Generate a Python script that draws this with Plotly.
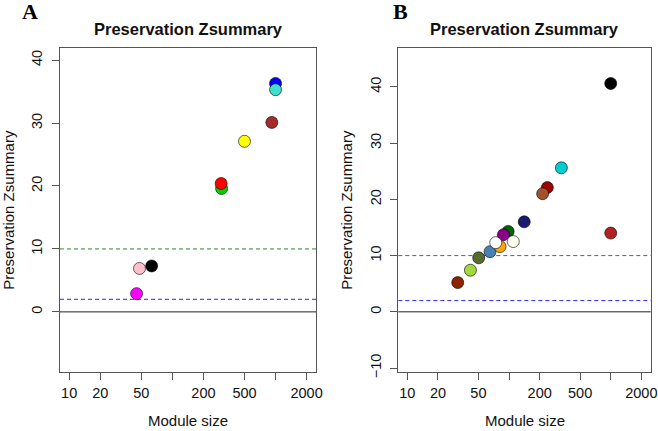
import plotly.graph_objects as go

# ---- data ----
a_colors = ["magenta", "pink", "black", "#00D000", "red", "yellow", "brown", "blue", "turquoise"]
a_size = [45, 48, 63, 300, 297, 500, 920, 1000, 1000]
a_z = [2.9, 6.9, 7.3, 19.6, 20.4, 27.1, 30.1, 36.3, 35.3]

b_colors = ["#8B2500", "#A2D93A", "#556B2F", "#4682B4", "#006400", "#8B008B", "#FFA500",
            "#FFFFFF", "#FFFFF0", "#191970", "#A00000", "#A0522D", "#00CED1", "#B22222", "black"]
b_size = [31.3, 41.7, 50.3, 65, 98, 88, 81.5, 74, 110, 141, 238, 214, 327, 1000, 1000]
b_z = [5.2, 7.4, 9.6, 10.7, 14.3, 13.7, 11.6, 12.3, 12.5, 16.0, 22.1, 21.0, 25.6, 14.0, 40.6]

x_tickvals = [10, 20, 50, 100, 200, 500, 1000, 2000]
x_ticktext = ["10", "20", "50", "", "200", "500", "", "2000"]
a_yticks = [0, 10, 20, 30, 40]
b_yticks = [-10, 0, 10, 20, 30, 40]
thresholds = [0, 2, 10]
threshold_colors = ["#222222", "#2A2AF0", "#2E862E"]
threshold_dash = ["solid", "4px,3px", "4px,3px"]

W, H = 658, 431
FONT = "Liberation Sans, Arial, sans-serif"

fig = go.Figure()
for cols, xs, ys, xa, ya in [(a_colors, a_size, a_z, "x", "y"), (b_colors, b_size, b_z, "x2", "y2")]:
    fig.add_trace(go.Scatter(
        x=xs, y=ys, mode="markers", xaxis=xa, yaxis=ya, showlegend=False, hoverinfo="skip",
        marker=dict(size=12, color=cols, line=dict(color="rgba(0,0,0,0.6)", width=1)),
    ))

dom_a = [60 / W, 316 / W]
dom_b = [398.3 / W, 650.7 / W]
dom_y = [1 - 372 / H, 1 - 47.5 / H]

axis_common = dict(showline=True, mirror=True, linecolor="#555", linewidth=1,
                   ticks="outside", ticklen=7, tickcolor="#555", showgrid=False, zeroline=False,
                   tickfont=dict(family=FONT, size=14.5, color="#111"))

fig.update_layout(
    width=W, height=H, margin=dict(l=0, r=0, t=0, b=0, autoexpand=False),
    paper_bgcolor="white", plot_bgcolor="white",
    xaxis=dict(domain=dom_a, type="log", range=[0.911, 3.392], anchor="y", ticklabelstandoff=1,
               tickvals=x_tickvals, ticktext=x_ticktext, **axis_common),
    yaxis=dict(domain=dom_y, range=[-9.55, 42.0], anchor="x", tickvals=a_yticks, ticklabelstandoff=4,
               tickangle=-90, **axis_common),
    xaxis2=dict(domain=dom_b, type="log", range=[0.911, 3.393], anchor="y2", ticklabelstandoff=1,
                tickvals=x_tickvals, ticktext=x_ticktext, **axis_common),
    yaxis2=dict(domain=dom_y, range=[-10.7, 47.0], anchor="x2", tickvals=b_yticks, ticklabelstandoff=4,
                tickangle=-90, **axis_common),
)

shapes = []
for xa, ya in [("x", "y"), ("x2", "y2")]:
    for v, c, d in zip(thresholds, threshold_colors, threshold_dash):
        shapes.append(dict(type="line", xref=f"{xa} domain", yref=ya, x0=0, x1=1, y0=v, y1=v,
                           line=dict(color=c, width=1, dash=d), layer="below"))
fig.update_layout(shapes=shapes)

ann = []
for dom, letter, lx, ylx in [(dom_a, "A", 30, 9), (dom_b, "B", 400, 347)]:
    cx = (dom[0] + dom[1]) / 2
    ann.append(dict(text="<b>Preservation Zsummary</b>", x=cx, y=1 - 29 / H, xref="paper", yref="paper",
                    showarrow=False, xanchor="center", yanchor="middle",
                    font=dict(family=FONT, size=16.5, color="#111")))
    ann.append(dict(text="Module size", x=cx, y=0, xref="paper", yref="paper",
                    showarrow=False, xanchor="center", yanchor="bottom",
                    font=dict(family=FONT, size=15, color="#111")))
    ann.append(dict(text="Preservation Zsummary", x=ylx / W, y=(dom_y[0] + dom_y[1]) / 2,
                    xref="paper", yref="paper", showarrow=False, textangle=-90,
                    xanchor="center", yanchor="middle",
                    font=dict(family=FONT, size=15, color="#111")))
    ann.append(dict(text=f"<b>{letter}</b>", x=lx / W, y=1 - 12 / H, xref="paper", yref="paper",
                    showarrow=False, xanchor="center", yanchor="middle",
                    font=dict(family="Liberation Serif, Times New Roman, serif", size=22, color="#000")))
fig.update_layout(annotations=ann)

fig.write_html("out.html", config={"displayModeBar": False},
               post_script="document.body.style.margin='0';document.body.style.overflow='hidden';")
